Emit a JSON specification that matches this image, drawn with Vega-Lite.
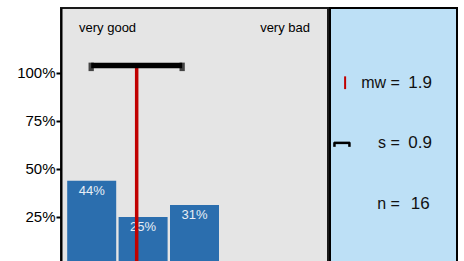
{
  "$schema": "https://vega.github.io/schema/vega-lite/v6.json",
  "padding": {"left": 15, "top": 7, "right": 0, "bottom": 0},
  "spacing": 0,
  "config": {"font": "Liberation Sans", "concat": {"spacing": 0}},
  "datasets": {
    "dist": [
      {"cat": 1, "share": 0.4375, "label": "44%"},
      {"cat": 2, "share": 0.25, "label": "25%"},
      {"cat": 3, "share": 0.3125, "label": "31%"}
    ],
    "summary": [{"mean": 1.875, "lo": 0.99, "hi": 2.76}],
    "ends": [
      {"side": "very good", "pos": 0.5},
      {"side": "very bad", "pos": 5.5}
    ],
    "stats": [
      {"key": "mw", "label": "mw =", "value": "1.9", "row": 3},
      {"key": "s", "label": "s =", "value": "0.9", "row": 2},
      {"key": "n", "label": "n =", "value": "16", "row": 1}
    ]
  },
  "hconcat": [
    {
      "width": 267,
      "height": 257,
      "view": {"fill": "#e5e5e5", "stroke": "#1a1a1a", "strokeWidth": 2},
      "layer": [
        {
          "data": {"name": "dist"},
          "mark": {"type": "bar", "width": 49, "color": "#2b6eae"},
          "encoding": {
            "x": {"field": "cat", "type": "quantitative", "scale": {"domain": [0.5, 5.5], "nice": false, "zero": false}, "axis": null},
            "y": {"field": "share", "type": "quantitative", "scale": {"domain": [0, 1.336], "nice": false},
              "axis": {"values": [0.25, 0.5, 0.75, 1], "format": ".0%", "labelFontSize": 15, "labelColor": "#000", "tickColor": "#000", "tickWidth": 2, "tickSize": 5, "domainColor": "#000", "domainWidth": 2, "labelPadding": 1, "grid": false, "title": null}}
          }
        },
        {
          "data": {"name": "dist"},
          "mark": {"type": "text", "dy": 10, "baseline": "middle", "color": "#e8eef6", "fontSize": 13},
          "encoding": {
            "x": {"field": "cat", "type": "quantitative"},
            "y": {"field": "share", "type": "quantitative"},
            "text": {"field": "label"}
          }
        },
        {
          "data": {"name": "summary"},
          "mark": {"type": "rule", "color": "#c00000", "strokeWidth": 3.5},
          "encoding": {
            "x": {"field": "mean", "type": "quantitative"},
            "y": {"datum": 0},
            "y2": {"datum": 1.037}
          }
        },
        {
          "data": {"name": "summary"},
          "mark": {"type": "rule", "color": "#000", "strokeWidth": 5.5},
          "encoding": {
            "x": {"field": "lo", "type": "quantitative"},
            "x2": {"field": "hi"},
            "y": {"datum": 1.037}
          }
        },
        {
          "data": {"name": "summary"},
          "transform": [{"fold": ["lo", "hi"], "as": ["end", "xv"]}],
          "mark": {"type": "tick", "orient": "vertical", "color": "#000", "size": 8.5, "thickness": 5.3},
          "encoding": {
            "x": {"field": "xv", "type": "quantitative"},
            "y": {"datum": 1.03}
          }
        },
        {
          "data": {"name": "ends"},
          "transform": [{"filter": "datum.pos < 1"}],
          "mark": {"type": "text", "align": "left", "baseline": "middle", "dx": 13, "fontSize": 13, "color": "#000"},
          "encoding": {
            "x": {"field": "pos", "type": "quantitative"},
            "y": {"datum": 1.232},
            "text": {"field": "side"}
          }
        },
        {
          "data": {"name": "ends"},
          "transform": [{"filter": "datum.pos > 1"}],
          "mark": {"type": "text", "align": "right", "baseline": "middle", "dx": -13, "fontSize": 13, "color": "#000"},
          "encoding": {
            "x": {"field": "pos", "type": "quantitative"},
            "y": {"datum": 1.232},
            "text": {"field": "side"}
          }
        }
      ]
    },
    {
      "width": 127,
      "height": 257,
      "view": {"fill": "#bde0f6", "stroke": "#000", "strokeWidth": 2},
      "layer": [
        {
          "data": {"name": "stats"},
          "mark": {"type": "text", "align": "right", "baseline": "middle", "fontSize": 16, "color": "#111"},
          "encoding": {
            "x": {"datum": 0.55, "type": "quantitative", "scale": {"domain": [0, 1], "nice": false, "zero": false}, "axis": null},
            "y": {"field": "row", "type": "quantitative", "scale": {"domain": [0, 4.23], "nice": false}, "axis": null},
            "text": {"field": "label"}
          }
        },
        {
          "data": {"name": "stats"},
          "mark": {"type": "text", "align": "center", "baseline": "middle", "fontSize": 17, "color": "#111"},
          "encoding": {
            "x": {"datum": 0.71, "type": "quantitative"},
            "y": {"field": "row", "type": "quantitative"},
            "text": {"field": "value"}
          }
        },
        {
          "data": {"values": [{}]},
          "mark": {"type": "rule", "color": "#c00000", "strokeWidth": 2},
          "encoding": {
            "x": {"datum": 0.119, "type": "quantitative"},
            "y": {"datum": 2.895, "type": "quantitative"},
            "y2": {"datum": 3.105}
          }
        },
        {
          "data": {"values": [{}]},
          "mark": {"type": "rule", "color": "#000", "strokeWidth": 2.5},
          "encoding": {
            "x": {"datum": 0.031, "type": "quantitative"},
            "x2": {"datum": 0.157},
            "y": {"datum": 2.01, "type": "quantitative"}
          }
        },
        {
          "data": {"values": [{}]},
          "mark": {"type": "rule", "color": "#000", "strokeWidth": 2.5},
          "encoding": {
            "x": {"datum": 0.035, "type": "quantitative"},
            "y": {"datum": 2.02, "type": "quantitative"},
            "y2": {"datum": 1.945}
          }
        },
        {
          "data": {"values": [{}]},
          "mark": {"type": "rule", "color": "#000", "strokeWidth": 2.5},
          "encoding": {
            "x": {"datum": 0.153, "type": "quantitative"},
            "y": {"datum": 2.02, "type": "quantitative"},
            "y2": {"datum": 1.945}
          }
        }
      ]
    }
  ]
}
